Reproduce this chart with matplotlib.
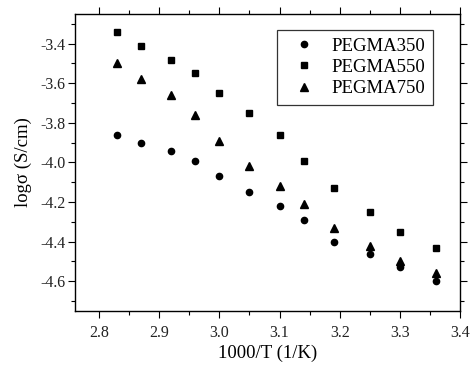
import matplotlib
matplotlib.use("Agg")
import matplotlib.pyplot as plt
from matplotlib.ticker import MultipleLocator, FormatStrFormatter

inv_T = [2.83, 2.87, 2.92, 2.96, 3.00, 3.05, 3.10, 3.14, 3.19, 3.25, 3.30, 3.36]
pegma350 = [-3.86, -3.90, -3.94, -3.99, -4.07, -4.15, -4.22, -4.29, -4.40, -4.46, -4.53, -4.60]
pegma550 = [-3.34, -3.41, -3.48, -3.55, -3.65, -3.75, -3.86, -3.99, -4.13, -4.25, -4.35, -4.43]
pegma750 = [-3.50, -3.58, -3.66, -3.76, -3.89, -4.02, -4.12, -4.21, -4.33, -4.42, -4.50, -4.56]
labels = ["PEGMA350", "PEGMA550", "PEGMA750"]

plt.rcParams['font.family'] = ['Liberation Serif', 'DejaVu Serif']
plt.rcParams['axes.unicode_minus'] = False

fig = plt.figure(figsize=(4.7, 3.67), dpi=100)
ax = fig.add_axes([0.1596, 0.1526, 0.8191, 0.8093])

ax.plot(inv_T, pegma350, 'o', color='black', markersize=4.5, linestyle='none', label=labels[0])
ax.plot(inv_T, pegma550, 's', color='black', markersize=4.3, linestyle='none', label=labels[1])
ax.plot(inv_T, pegma750, '^', color='black', markersize=5.2, linestyle='none', label=labels[2])

ax.set_xlim(2.76, 3.4)
ax.set_ylim(-4.75, -3.25)
ax.xaxis.set_major_locator(MultipleLocator(0.1))
ax.xaxis.set_minor_locator(MultipleLocator(0.05))
ax.yaxis.set_major_locator(MultipleLocator(0.2))
ax.yaxis.set_minor_locator(MultipleLocator(0.1))
ax.xaxis.set_major_formatter(FormatStrFormatter('%.1f'))
ax.yaxis.set_major_formatter(FormatStrFormatter('%.1f'))

ax.tick_params(which='both', direction='out', top=True, right=True, labelsize=11.5,
               color='black', labelcolor='#222222')
ax.tick_params(which='major', length=5, width=0.8)
ax.tick_params(axis='x', which='major', pad=5)
ax.tick_params(axis='y', which='major', pad=2)
ax.tick_params(which='minor', length=3, width=0.8)
for s in ax.spines.values():
    s.set_linewidth(1.0)

ax.set_xlabel("1000/T (1/K)", fontsize=13.5, labelpad=3)
ax.set_ylabel("logσ (S/cm)", fontsize=13.5, labelpad=6)

leg = ax.legend(loc='upper right', bbox_to_anchor=(0.930, 0.946), borderaxespad=0,
                fontsize=13.5, frameon=True, fancybox=False, edgecolor='black',
                handletextpad=0.5, labelspacing=0.22, borderpad=0.4, handlelength=2.0)
leg.get_frame().set_linewidth(0.9)

fig.savefig("out.png", dpi=100)
